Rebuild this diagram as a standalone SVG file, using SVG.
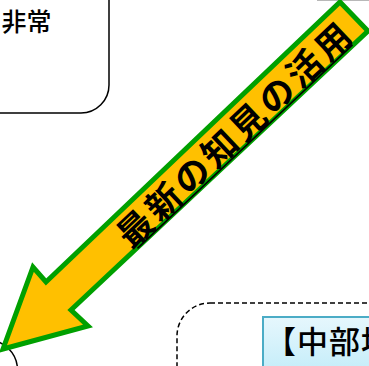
<svg xmlns="http://www.w3.org/2000/svg" width="369" height="366" viewBox="0 0 369 366">
<defs>
<linearGradient id="blueFill" x1="0" y1="0" x2="0" y2="1">
<stop offset="0" stop-color="#e6f7fd"/>
<stop offset="1" stop-color="#b5e8f7"/>
</linearGradient>
<style>
.box{fill:#fff;stroke:#000;stroke-width:1.5}
.dash{fill:none;stroke:#000;stroke-width:1.5;stroke-dasharray:5 3}
.jp{font-family:"Noto Sans CJK JP","Noto Sans CJK SC",sans-serif;fill:#000}
.arrow{fill:#ffc000;stroke:#00a000;stroke-width:5;stroke-linejoin:miter;stroke-miterlimit:10}
</style>
</defs>
<rect width="369" height="366" fill="#fff"/>
<line x1="317" y1="0.5" x2="369" y2="0.5" stroke="#b8b8b8" stroke-width="1"/>
<g id="node-top-left">
<rect class="box" x="-30" y="-30" width="139" height="143" rx="28"/>
<text class="jp" x="1.5" y="31" font-size="25" font-weight="500">非常</text>
</g>
<g id="node-bottom-left">
<rect class="box" x="-100" y="340" width="117.5" height="100" rx="30"/>
</g>
<g id="node-chubu">
<rect class="dash" x="177" y="303" width="260" height="150" rx="33"/>
<rect x="263" y="317" width="140" height="80" fill="url(#blueFill)" stroke="#4bacc6" stroke-width="2"/>
<text class="jp" x="265" y="353" font-size="31" letter-spacing="1" font-weight="500">【中部地</text>
</g>
<g id="connectors">
<g id="arrow-latest">
<polygon class="arrow" points="3,349 88,326 71,310 368,31 340,2 46,282 33,267"/>
<g transform="translate(234,135) rotate(-43.4)">
<text class="jp" x="-153.5" y="13" font-size="35" font-weight="bold" textLength="307" lengthAdjust="spacing">最新の知見の活用</text>
<line x1="-148" y1="16" x2="148" y2="16" stroke="#000" stroke-width="1.6"/>
</g>
</g>
</g>
</svg>
